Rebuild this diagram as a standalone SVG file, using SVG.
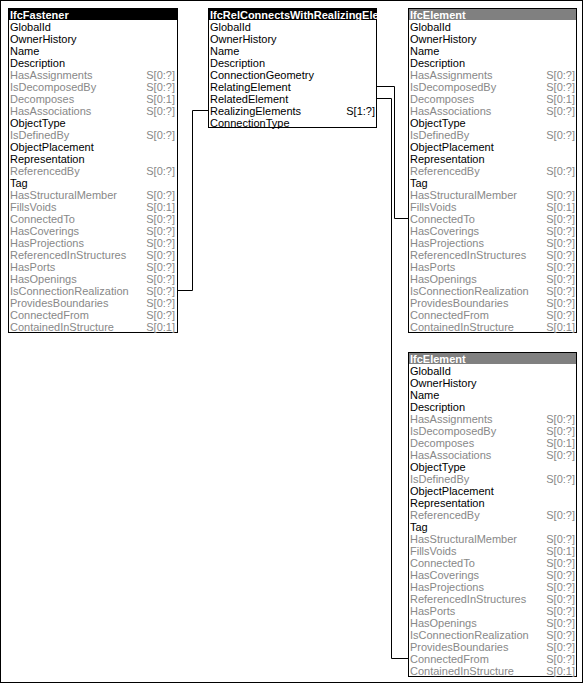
<svg xmlns="http://www.w3.org/2000/svg" width="584" height="684" viewBox="0 0 584 684">
<style>
text{font-family:"Liberation Sans",Arial,sans-serif;font-size:11px}
.h{font-weight:bold;fill:#fff}
.a{fill:#000}
.i{fill:#888}
.c{fill:#888;text-anchor:end}
.cb{fill:#000;text-anchor:end}
.box{fill:#fff;stroke:#000;stroke-width:1}
.hd{fill:#000}
.hg{fill:#808080}
.ln{fill:none;stroke:#000;stroke-width:1}
</style>
<defs>
<clipPath id="clipRel"><rect x="209" y="8" width="168" height="12"/></clipPath>
</defs>
<rect x="0.5" y="0.5" width="582" height="682" fill="#fff" stroke="#000"/>

<g id="connectors">
<polyline class="ln" points="177,290.5 192.5,290.5 192.5,110.5 208,110.5"/>
<polyline class="ln" points="377,86.5 394.5,86.5 394.5,218.5 408,218.5"/>
<polyline class="ln" points="377,98.5 391.5,98.5 391.5,658.5 408,658.5"/>
</g>

<g id="IfcFastener">
<rect class="box" x="8.5" y="8.5" width="169" height="324"/>
<rect class="hd" x="8" y="8" width="170" height="12"/>
<text class="h" x="10" y="19">IfcFastener</text>
<text class="a" x="10" y="31">GlobalId</text>
<text class="a" x="10" y="43">OwnerHistory</text>
<text class="a" x="10" y="55">Name</text>
<text class="a" x="10" y="67">Description</text>
<text class="i" x="10" y="79">HasAssignments</text><text class="c" x="175" y="79">S[0:?]</text>
<text class="i" x="10" y="91">IsDecomposedBy</text><text class="c" x="175" y="91">S[0:?]</text>
<text class="i" x="10" y="103">Decomposes</text><text class="c" x="175" y="103">S[0:1]</text>
<text class="i" x="10" y="115">HasAssociations</text><text class="c" x="175" y="115">S[0:?]</text>
<text class="a" x="10" y="127">ObjectType</text>
<text class="i" x="10" y="139">IsDefinedBy</text><text class="c" x="175" y="139">S[0:?]</text>
<text class="a" x="10" y="151">ObjectPlacement</text>
<text class="a" x="10" y="163">Representation</text>
<text class="i" x="10" y="175">ReferencedBy</text><text class="c" x="175" y="175">S[0:?]</text>
<text class="a" x="10" y="187">Tag</text>
<text class="i" x="10" y="199">HasStructuralMember</text><text class="c" x="175" y="199">S[0:?]</text>
<text class="i" x="10" y="211">FillsVoids</text><text class="c" x="175" y="211">S[0:1]</text>
<text class="i" x="10" y="223">ConnectedTo</text><text class="c" x="175" y="223">S[0:?]</text>
<text class="i" x="10" y="235">HasCoverings</text><text class="c" x="175" y="235">S[0:?]</text>
<text class="i" x="10" y="247">HasProjections</text><text class="c" x="175" y="247">S[0:?]</text>
<text class="i" x="10" y="259">ReferencedInStructures</text><text class="c" x="175" y="259">S[0:?]</text>
<text class="i" x="10" y="271">HasPorts</text><text class="c" x="175" y="271">S[0:?]</text>
<text class="i" x="10" y="283">HasOpenings</text><text class="c" x="175" y="283">S[0:?]</text>
<text class="i" x="10" y="295">IsConnectionRealization</text><text class="c" x="175" y="295">S[0:?]</text>
<text class="i" x="10" y="307">ProvidesBoundaries</text><text class="c" x="175" y="307">S[0:?]</text>
<text class="i" x="10" y="319">ConnectedFrom</text><text class="c" x="175" y="319">S[0:?]</text>
<text class="i" x="10" y="331">ContainedInStructure</text><text class="c" x="175" y="331">S[0:1]</text>
</g>

<g id="IfcRelConnectsWithRealizingElements">
<rect class="box" x="208.5" y="8.5" width="168" height="119"/>
<rect class="hd" x="208" y="8" width="169" height="12"/>
<text class="h" x="210" y="19" clip-path="url(#clipRel)">IfcRelConnectsWithRealizingElements</text>
<text class="a" x="210" y="31">GlobalId</text>
<text class="a" x="210" y="43">OwnerHistory</text>
<text class="a" x="210" y="55">Name</text>
<text class="a" x="210" y="67">Description</text>
<text class="a" x="210" y="79">ConnectionGeometry</text>
<text class="a" x="210" y="91">RelatingElement</text>
<text class="a" x="210" y="103">RelatedElement</text>
<text class="a" x="210" y="115">RealizingElements</text><text class="cb" x="375" y="115">S[1:?]</text>
<text class="a" x="210" y="127">ConnectionType</text>
</g>

<g id="IfcElement1">
<rect class="box" x="408.5" y="8.5" width="168" height="324"/>
<rect class="hg" x="409" y="9" width="167" height="11"/>
<text class="h" x="410" y="19">IfcElement</text>
<text class="a" x="410" y="31">GlobalId</text>
<text class="a" x="410" y="43">OwnerHistory</text>
<text class="a" x="410" y="55">Name</text>
<text class="a" x="410" y="67">Description</text>
<text class="i" x="410" y="79">HasAssignments</text><text class="c" x="575" y="79">S[0:?]</text>
<text class="i" x="410" y="91">IsDecomposedBy</text><text class="c" x="575" y="91">S[0:?]</text>
<text class="i" x="410" y="103">Decomposes</text><text class="c" x="575" y="103">S[0:1]</text>
<text class="i" x="410" y="115">HasAssociations</text><text class="c" x="575" y="115">S[0:?]</text>
<text class="a" x="410" y="127">ObjectType</text>
<text class="i" x="410" y="139">IsDefinedBy</text><text class="c" x="575" y="139">S[0:?]</text>
<text class="a" x="410" y="151">ObjectPlacement</text>
<text class="a" x="410" y="163">Representation</text>
<text class="i" x="410" y="175">ReferencedBy</text><text class="c" x="575" y="175">S[0:?]</text>
<text class="a" x="410" y="187">Tag</text>
<text class="i" x="410" y="199">HasStructuralMember</text><text class="c" x="575" y="199">S[0:?]</text>
<text class="i" x="410" y="211">FillsVoids</text><text class="c" x="575" y="211">S[0:1]</text>
<text class="i" x="410" y="223">ConnectedTo</text><text class="c" x="575" y="223">S[0:?]</text>
<text class="i" x="410" y="235">HasCoverings</text><text class="c" x="575" y="235">S[0:?]</text>
<text class="i" x="410" y="247">HasProjections</text><text class="c" x="575" y="247">S[0:?]</text>
<text class="i" x="410" y="259">ReferencedInStructures</text><text class="c" x="575" y="259">S[0:?]</text>
<text class="i" x="410" y="271">HasPorts</text><text class="c" x="575" y="271">S[0:?]</text>
<text class="i" x="410" y="283">HasOpenings</text><text class="c" x="575" y="283">S[0:?]</text>
<text class="i" x="410" y="295">IsConnectionRealization</text><text class="c" x="575" y="295">S[0:?]</text>
<text class="i" x="410" y="307">ProvidesBoundaries</text><text class="c" x="575" y="307">S[0:?]</text>
<text class="i" x="410" y="319">ConnectedFrom</text><text class="c" x="575" y="319">S[0:?]</text>
<text class="i" x="410" y="331">ContainedInStructure</text><text class="c" x="575" y="331">S[0:1]</text>
</g>

<g id="IfcElement2" transform="translate(0,344)">
<rect class="box" x="408.5" y="8.5" width="168" height="324"/>
<rect class="hg" x="409" y="9" width="167" height="11"/>
<text class="h" x="410" y="19">IfcElement</text>
<text class="a" x="410" y="31">GlobalId</text>
<text class="a" x="410" y="43">OwnerHistory</text>
<text class="a" x="410" y="55">Name</text>
<text class="a" x="410" y="67">Description</text>
<text class="i" x="410" y="79">HasAssignments</text><text class="c" x="575" y="79">S[0:?]</text>
<text class="i" x="410" y="91">IsDecomposedBy</text><text class="c" x="575" y="91">S[0:?]</text>
<text class="i" x="410" y="103">Decomposes</text><text class="c" x="575" y="103">S[0:1]</text>
<text class="i" x="410" y="115">HasAssociations</text><text class="c" x="575" y="115">S[0:?]</text>
<text class="a" x="410" y="127">ObjectType</text>
<text class="i" x="410" y="139">IsDefinedBy</text><text class="c" x="575" y="139">S[0:?]</text>
<text class="a" x="410" y="151">ObjectPlacement</text>
<text class="a" x="410" y="163">Representation</text>
<text class="i" x="410" y="175">ReferencedBy</text><text class="c" x="575" y="175">S[0:?]</text>
<text class="a" x="410" y="187">Tag</text>
<text class="i" x="410" y="199">HasStructuralMember</text><text class="c" x="575" y="199">S[0:?]</text>
<text class="i" x="410" y="211">FillsVoids</text><text class="c" x="575" y="211">S[0:1]</text>
<text class="i" x="410" y="223">ConnectedTo</text><text class="c" x="575" y="223">S[0:?]</text>
<text class="i" x="410" y="235">HasCoverings</text><text class="c" x="575" y="235">S[0:?]</text>
<text class="i" x="410" y="247">HasProjections</text><text class="c" x="575" y="247">S[0:?]</text>
<text class="i" x="410" y="259">ReferencedInStructures</text><text class="c" x="575" y="259">S[0:?]</text>
<text class="i" x="410" y="271">HasPorts</text><text class="c" x="575" y="271">S[0:?]</text>
<text class="i" x="410" y="283">HasOpenings</text><text class="c" x="575" y="283">S[0:?]</text>
<text class="i" x="410" y="295">IsConnectionRealization</text><text class="c" x="575" y="295">S[0:?]</text>
<text class="i" x="410" y="307">ProvidesBoundaries</text><text class="c" x="575" y="307">S[0:?]</text>
<text class="i" x="410" y="319">ConnectedFrom</text><text class="c" x="575" y="319">S[0:?]</text>
<text class="i" x="410" y="331">ContainedInStructure</text><text class="c" x="575" y="331">S[0:1]</text>
</g>
</svg>
